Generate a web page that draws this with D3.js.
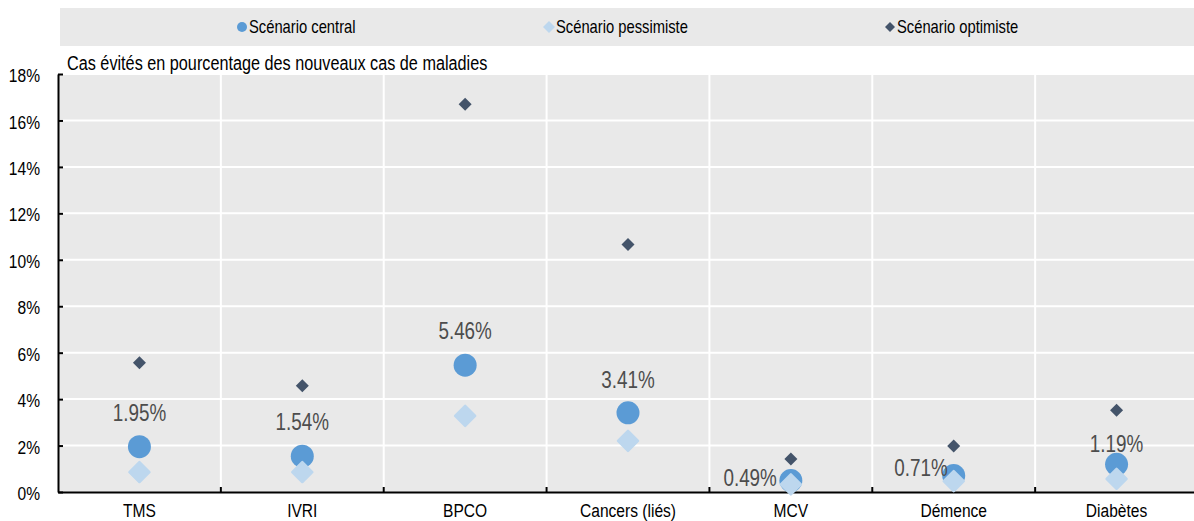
<!DOCTYPE html>
<html>
<head>
<meta charset="utf-8">
<script src="https://cdn.jsdelivr.net/npm/d3@7"></script>
<style>
  body { margin: 0; background: #fff; }
  text { font-family: "Arial Narrow", "Liberation Sans", Arial, sans-serif; }
</style>
</head>
<body>
<svg id="chart" width="1194" height="521"></svg>
<script>
const categories = ["TMS", "IVRI", "BPCO", "Cancers (liés)", "MCV", "Démence", "Diabètes"];
const central = [1.95, 1.54, 5.46, 3.41, 0.49, 0.71, 1.19];
const pessimiste = [0.86, 0.86, 3.28, 2.2, 0.33, 0.47, 0.57];
const optimiste = [5.57, 4.57, 16.7, 10.66, 1.42, 1.98, 3.52];
const yTicks = [0, 2, 4, 6, 8, 10, 12, 14, 16, 18];
const seriesNames = ["Scénario central", "Scénario pessimiste", "Scénario optimiste"];

// value label placement relative to the central dot (centre of text)
const labelPos = [
  { dx: 0, dy: -34, anchor: "middle" },
  { dx: 0, dy: -34, anchor: "middle" },
  { dx: 0, dy: -34, anchor: "middle" },
  { dx: 0, dy: -33, anchor: "middle" },
  { dx: -14, dy: -3, anchor: "end" },
  { dx: -6, dy: -8, anchor: "end" },
  { dx: 0, dy: -20, anchor: "middle" }
];

const colCentral = "#5b9bd5";
const colPess = "#bdd7ee";
const colOpt = "#44546a";
const bg = "#e9e9e9";
const squeeze = 0.82; // no Arial Narrow here, so squeeze Liberation Sans

const svg = d3.select("#chart");
const margin = { top: 74, left: 58, bottom: 29 };
const plotRight = 1198;
const plotBottom = 521 - margin.bottom;

const x = d3.scaleBand().domain(categories).range([margin.left, plotRight]);
const y = d3.scaleLinear().domain([0, 18]).range([plotBottom, margin.top]);

// narrow text placed at (px, py)
function narrowText(parent, px, py, str, size, anchor) {
  return parent.append("text")
    .attr("transform", `translate(${px},${py}) scale(${squeeze},1)`)
    .attr("dy", "0.35em")
    .attr("text-anchor", anchor || "start")
    .attr("font-size", size)
    .text(str);
}

// legend band
svg.append("rect")
  .attr("x", 60).attr("y", 8)
  .attr("width", 1134).attr("height", 38)
  .attr("fill", bg);

const legendX = [237, 544, 885];
const legend = svg.selectAll(".legend")
  .data(seriesNames)
  .enter().append("g")
  .attr("class", "legend")
  .attr("transform", (d, i) => `translate(${legendX[i]},27)`);

legend.each(function(d, i) {
  const g = d3.select(this);
  if (i === 0) {
    g.append("circle").attr("cx", 5).attr("r", 5).attr("fill", colCentral);
  } else {
    const s = i === 1 ? 6 : 5;
    g.append("path")
      .attr("d", `M5,${-s}L${5 + s},0L5,${s}L${5 - s},0Z`)
      .attr("fill", i === 1 ? colPess : colOpt);
  }
  narrowText(g, 12, 0, d, 18).attr("fill", "#000");
});

// plot background
svg.append("rect")
  .attr("x", margin.left).attr("y", margin.top)
  .attr("width", plotRight - margin.left).attr("height", plotBottom - margin.top)
  .attr("fill", bg);

// gridlines
svg.append("g").selectAll("line")
  .data(yTicks.slice(1))
  .enter().append("line")
  .attr("x1", margin.left).attr("x2", plotRight)
  .attr("y1", d => y(d)).attr("y2", d => y(d))
  .attr("stroke", "#fff").attr("stroke-width", 2);

svg.append("g").selectAll("line")
  .data(categories.slice(1))
  .enter().append("line")
  .attr("x1", d => x(d)).attr("x2", d => x(d))
  .attr("y1", margin.top).attr("y2", plotBottom)
  .attr("stroke", "#fff").attr("stroke-width", 2);

// axes
const yAxis = svg.append("g")
  .attr("transform", `translate(${margin.left},0)`)
  .call(d3.axisLeft(y).tickValues(yTicks).tickSizeInner(-5).tickSizeOuter(0).tickFormat(d => d + "%"));
yAxis.select(".domain").attr("stroke", "#000").attr("stroke-width", 2);
yAxis.selectAll(".tick line").attr("stroke", "#000").attr("stroke-width", 2);
yAxis.selectAll(".tick text")
  .attr("x", null).attr("dy", "0.35em")
  .attr("transform", `translate(-18,1) scale(${squeeze},1)`)
  .attr("font-size", 19).attr("fill", "#000")
  .style("font-family", '"Arial Narrow", "Liberation Sans", sans-serif');

const xAxis = svg.append("g")
  .attr("transform", `translate(0,${plotBottom})`)
  .call(d3.axisBottom(x).tickSize(0));
xAxis.select(".domain").attr("stroke", "#000").attr("stroke-width", 2);
xAxis.selectAll(".tick text")
  .attr("y", null).attr("dy", "0.35em")
  .attr("transform", `translate(0,18) scale(${squeeze},1)`)
  .attr("font-size", 19).attr("fill", "#000")
  .style("font-family", '"Arial Narrow", "Liberation Sans", sans-serif');

// inner ticks on category boundaries
svg.append("g").selectAll("line")
  .data(categories.slice(1))
  .enter().append("line")
  .attr("x1", d => x(d)).attr("x2", d => x(d))
  .attr("y1", plotBottom - 5).attr("y2", plotBottom)
  .attr("stroke", "#000").attr("stroke-width", 2);

// subtitle
narrowText(svg, 67, 63, "Cas évités en pourcentage des nouveaux cas de maladies", 19.8)
  .attr("fill", "#000");

const cx = d => x(d) + x.bandwidth() / 2;
const diamond = s => `M0,${-s}L${s},0L0,${s}L${-s},0Z`;

// central dots
svg.append("g").selectAll("circle")
  .data(categories)
  .enter().append("circle")
  .attr("cx", d => cx(d))
  .attr("cy", (d, i) => y(central[i]))
  .attr("r", 11.5)
  .attr("fill", colCentral);

// pessimistic
svg.append("g").selectAll("path")
  .data(categories)
  .enter().append("path")
  .attr("transform", (d, i) => `translate(${cx(d)},${y(pessimiste[i])})`)
  .attr("d", diamond(10))
  .attr("fill", colPess)
  .attr("stroke", colPess).attr("stroke-width", 2.5).attr("stroke-linejoin", "round");

// optimistic
svg.append("g").selectAll("path")
  .data(categories)
  .enter().append("path")
  .attr("transform", (d, i) => `translate(${cx(d)},${y(optimiste[i])})`)
  .attr("d", diamond(6.5))
  .attr("fill", colOpt);

// value labels
const labels = svg.append("g");
categories.forEach((c, i) => {
  narrowText(labels, cx(c) + labelPos[i].dx, y(central[i]) + labelPos[i].dy,
    central[i].toFixed(2) + "%", 23, labelPos[i].anchor)
    .attr("fill", "#4d4d4d");
});
</script>
</body>
</html>
